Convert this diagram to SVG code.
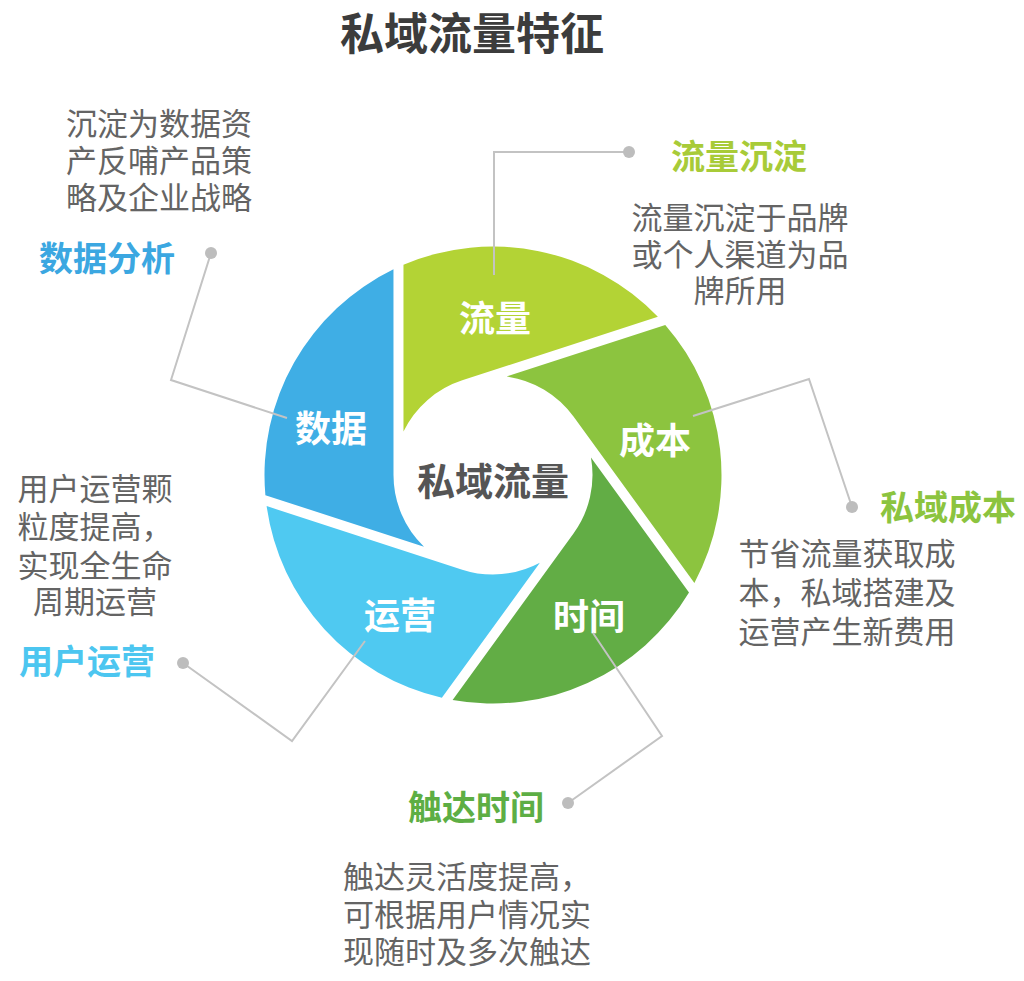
<svg xmlns="http://www.w3.org/2000/svg" width="1024" height="981" viewBox="0 0 1024 981">
<style>
text{font-family:"Noto Sans CJK SC","Noto Sans",sans-serif;}
.title{font-size:44px;font-weight:700;fill:#3c3c3c;text-anchor:middle}
.center{font-size:38px;font-weight:700;fill:#555555;text-anchor:middle}
.bl{font-size:36px;font-weight:700;fill:#ffffff;text-anchor:middle}
.head{font-size:34px;font-weight:700;text-anchor:middle}
.desc{font-size:31px;fill:#646464;text-anchor:middle}
.lead{fill:none;stroke:#c3c3c3;stroke-width:2}
.dot{fill:#bdbdbd}
</style>
<rect width="1024" height="981" fill="#ffffff"/>
<text class="title" x="472" y="50">私域流量特征</text>

<g id="blade-liuliang">
<path d="M657.87,316.79 L462.25,380.37 A99.5,99.5 0 0 0 403.49,431.54 L403.47,264.77 A228.5,228.5 0 0 1 657.87,316.79 Z" fill="#b3d335"/>
<text class="bl" x="495" y="332">流量</text>
</g>
<g id="blade-chengben">
<path d="M694.41,582.91 L573.50,416.52 A99.5,99.5 0 0 0 506.68,376.44 L665.27,324.88 A228.5,228.5 0 0 1 694.41,582.91 Z" fill="#8cc43f"/>
<text class="bl" x="655" y="454">成本</text>
</g>
<g id="blade-shijian">
<path d="M452.61,699.90 L573.50,533.48 A99.5,99.5 0 0 0 590.96,457.55 L689.00,592.45 A228.5,228.5 0 0 1 452.61,699.90 Z" fill="#62ad45"/>
<text class="bl" x="589" y="630">时间</text>
</g>
<g id="blade-yunying">
<path d="M266.63,506.09 L462.25,569.63 A99.5,99.5 0 0 0 539.87,562.77 L441.87,697.71 A228.5,228.5 0 0 1 266.63,506.09 Z" fill="#4fc9f1"/>
<text class="bl" x="400" y="629">运营</text>
</g>
<g id="blade-shuju">
<path d="M393.47,269.32 L393.5,475 A99.5,99.5 0 0 0 424.01,546.70 L265.39,495.19 A228.5,228.5 0 0 1 393.47,269.32 Z" fill="#3faee5"/>
<text class="bl" x="331" y="442">数据</text>
</g>
<g id="center">
<text class="center" x="493" y="495">私域流量</text>
</g>

<g id="connectors">
<polyline class="lead" points="629,152 494,152 494,275"/>
<polyline class="lead" points="211,253 171,380 287,418"/>
<polyline class="lead" points="183,663 292,741 365,641"/>
<polyline class="lead" points="852,507 809,379 693,416"/>
<polyline class="lead" points="568,803 662,736 593,633"/>
<circle class="dot" cx="629" cy="152" r="6"/>
<circle class="dot" cx="211" cy="253" r="6"/>
<circle class="dot" cx="183" cy="663" r="6"/>
<circle class="dot" cx="852" cy="507" r="6"/>
<circle class="dot" cx="568" cy="803" r="6"/>
</g>

<g id="note-liuliang">
<text class="head" x="739" y="169" fill="#a8cb38">流量沉淀</text>
<text class="desc" x="740" y="229">流量沉淀于品牌<tspan x="740" dy="37">或个人渠道为品</tspan><tspan x="740" dy="36">牌所用</tspan></text>
</g>
<g id="note-shuju">
<text class="desc" x="159" y="135">沉淀为数据资<tspan x="159" dy="37">产反哺产品策</tspan><tspan x="159" dy="37">略及企业战略</tspan></text>
<text class="head" x="107" y="271" fill="#3ba7e1">数据分析</text>
</g>
<g id="note-chengben">
<text class="head" x="948" y="520" fill="#8cc43f">私域成本</text>
<text class="desc" x="847" y="565">节省流量获取成<tspan x="847" dy="39">本，私域搭建及</tspan><tspan x="847" dy="39">运营产生新费用</tspan></text>
</g>
<g id="note-yunying">
<text class="desc" x="95" y="500">用户运营颗<tspan x="95" dy="38">粒度提高，</tspan><tspan x="95" dy="39">实现全生命</tspan><tspan x="95" dy="36">周期运营</tspan></text>
<text class="head" x="87" y="674" fill="#4cc6f0">用户运营</text>
</g>
<g id="note-shijian">
<text class="head" x="476" y="820" fill="#5dae44">触达时间</text>
<text class="desc" x="467" y="888">触达灵活度提高，<tspan x="467" dy="38">可根据用户情况实</tspan><tspan x="467" dy="37">现随时及多次触达</tspan></text>
</g>
</svg>
